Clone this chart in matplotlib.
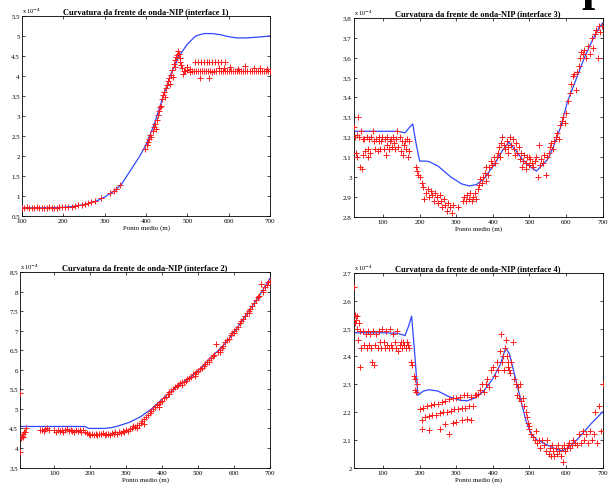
import numpy as np
import matplotlib
matplotlib.use("Agg")
import matplotlib.pyplot as plt

# Curvatura da frente de onda-NIP, valores em unidades de 1e-4
# ---- interface 1 ----
blue1_x = [100, 150, 200, 220, 240, 260, 280, 300, 320, 340, 360, 385, 400, 420, 440, 460, 480, 500, 520, 540, 560, 580, 600, 620, 640, 670, 700]
blue1_y = [0.70, 0.70, 0.71, 0.73, 0.76, 0.81, 0.87, 0.97, 1.10, 1.28, 1.60, 2.00, 2.28, 2.80, 3.45, 4.05, 4.50, 4.80, 5.00, 5.06, 5.06, 5.03, 4.98, 4.95, 4.95, 4.97, 5.00]
red1_x = [100, 106, 112, 118, 124, 130, 136, 142, 148, 154, 160, 166, 172, 178, 184, 190, 196, 204, 212, 220, 228, 236, 244, 252, 260, 268, 276, 292, 312, 322, 328, 338,
          398, 401, 404, 407, 410, 413, 416, 418, 421, 423, 426, 428, 431, 433, 436, 438, 440, 443, 445, 448, 450, 452, 455, 457, 460, 462, 464, 467, 469, 471, 473, 475, 477, 479, 481, 483, 485, 487, 489, 491,
          518, 525, 532, 539, 546, 553, 560, 567, 574, 581, 590,
          495, 500, 505, 510, 515, 520, 525, 530, 535, 540, 545, 550, 555, 560, 565, 570, 575, 580, 585, 590, 595, 600, 605, 610, 615, 620, 625, 630, 635, 640, 645, 650, 655, 660, 665, 670, 675, 680, 685, 690, 695, 700,
          530, 552, 602, 622, 638, 660, 676, 692, 498, 505, 575, 588]
red1_y = [0.70, 0.70, 0.71, 0.70, 0.70, 0.70, 0.71, 0.70, 0.70, 0.70, 0.70, 0.71, 0.70, 0.70, 0.70, 0.71, 0.71, 0.72, 0.72, 0.73, 0.74, 0.76, 0.77, 0.79, 0.82, 0.84, 0.87, 0.95, 1.06, 1.12, 1.17, 1.27,
          2.18, 2.28, 2.35, 2.42, 2.52, 2.48, 2.62, 2.72, 2.80, 2.68, 2.90, 3.02, 3.12, 3.22, 3.25, 3.42, 3.52, 3.60, 3.48, 3.70, 3.78, 3.88, 3.95, 3.80, 4.02, 4.15, 3.98, 4.30, 4.22, 4.40, 4.48, 4.52, 4.62, 4.55, 4.45, 4.35, 4.28, 4.20, 4.05, 4.12,
          4.36, 4.36, 4.36, 4.36, 4.36, 4.36, 4.35, 4.35, 4.36, 4.35, 4.36,
          4.12, 4.14, 4.11, 4.12, 4.13, 4.12, 4.12, 4.12, 4.12, 4.12, 4.12, 4.12, 4.12, 4.11, 4.12, 4.12, 4.12, 4.12, 4.12, 4.12, 4.12, 4.13, 4.12, 4.12, 4.13, 4.13, 4.12, 4.12, 4.13, 4.12, 4.13, 4.12, 4.12, 4.12, 4.12, 4.12, 4.13, 4.12, 4.12, 4.12, 4.12, 4.12,
          3.95, 3.95, 4.22, 4.18, 4.24, 4.20, 4.20, 4.18, 4.22, 4.18, 4.20, 4.19]

# ---- interface 3 ----
blue3_x = [20, 60, 100, 140, 160, 170, 181, 190, 200, 215, 225, 250, 285, 315, 336, 355, 375, 403, 425, 443, 460, 480, 500, 519, 535, 550, 565, 585, 604, 625, 650, 675, 690, 700]
blue3_y = [3.23, 3.23, 3.23, 3.23, 3.222, 3.245, 3.267, 3.17, 3.08, 3.08, 3.078, 3.055, 3.0, 2.965, 2.955, 2.962, 2.99, 3.06, 3.13, 3.175, 3.14, 3.09, 3.055, 3.03, 3.06, 3.09, 3.15, 3.25, 3.38, 3.48, 3.6, 3.7, 3.75, 3.775]
red3_x = [20, 22, 25, 28, 32, 35, 38, 40, 42, 45, 48, 50, 55, 58, 62, 65, 68, 72, 75, 78, 82, 85, 88, 92, 95, 98, 102, 105, 108, 112, 115, 118, 122, 125, 128, 132, 135, 138, 142, 145, 148, 152, 155, 158, 162, 165, 168, 170, 172,
          30, 45, 60, 90, 110, 130, 160,
          190, 193, 196, 200, 205, 210, 213, 218, 222, 226, 230, 235, 238, 242, 246, 250, 255, 258, 262, 266, 270, 274, 278, 283, 288, 292, 300, 305,
          318, 322, 326, 330, 334, 338, 342, 346, 350, 355, 358, 362, 366, 370, 374, 378, 382, 386, 390, 394, 398, 402, 406, 410, 414, 418, 422, 426, 430, 434, 438, 442, 446, 450, 454, 458, 462, 466, 470, 474, 478, 482, 486, 490, 494, 498,
          502, 506, 510, 514, 518, 522, 525, 528, 532, 536, 540, 544, 548, 552, 556, 560, 564, 568, 572, 576, 580, 584, 588, 592, 596, 600, 605, 610, 614, 618, 622, 626, 630, 634, 638, 642, 646, 650, 655, 660, 665, 670, 674, 678, 682, 686, 690, 694, 698,
          420, 440, 460, 480, 490, 500, 380]
red3_y = [3.25, 3.20, 3.12, 3.10, 3.30, 3.20, 3.05, 3.23, 3.04, 3.11, 3.19, 3.13, 3.20, 3.10, 3.19, 3.12, 3.20, 3.23, 3.18, 3.14, 3.19, 3.13, 3.20, 3.14, 3.18, 3.20, 3.14, 3.19, 3.11, 3.20, 3.14, 3.18, 3.19, 3.15, 3.20, 3.14, 3.19, 3.23, 3.15, 3.20, 3.13, 3.18, 3.11, 3.16, 3.14, 3.19, 3.10, 3.18, 3.13,
          3.21, 3.19, 3.14, 3.18, 3.16, 3.17, 3.18,
          3.05, 3.03, 3.01, 3.00, 2.97, 2.95, 2.89, 2.92, 2.94, 2.90, 2.93, 2.91, 2.88, 2.92, 2.90, 2.87, 2.91, 2.88, 2.85, 2.89, 2.86, 2.83, 2.87, 2.85, 2.82, 2.86, 2.78, 2.85,
          2.88, 2.90, 2.88, 2.91, 2.89, 2.92, 2.88, 2.90, 2.92, 2.89, 2.94, 2.96, 2.99, 2.97, 3.00, 3.02, 2.98, 3.01, 3.05, 3.08, 3.06, 3.10, 3.07, 3.10, 3.12, 3.15, 3.17, 3.20, 3.16, 3.14, 3.18, 3.15, 3.20, 3.16, 3.19, 3.14, 3.17, 3.12, 3.15, 3.09, 3.12, 3.08, 3.11, 3.07, 3.10, 3.06,
          3.09, 3.07, 3.05, 3.08, 3.10, 3.00, 3.16, 3.06, 3.09, 3.07, 3.11, 3.01, 3.10, 3.12, 3.15, 3.17, 3.14, 3.18, 3.20, 3.22, 3.19, 3.26, 3.28, 3.30, 3.27, 3.32, 3.38, 3.42, 3.47, 3.51, 3.52, 3.44, 3.53, 3.56, 3.60, 3.63, 3.62, 3.64, 3.60, 3.66, 3.62, 3.70, 3.65, 3.72, 3.74, 3.60, 3.76, 3.73, 3.76,
          3.10, 3.12, 3.11, 3.05, 3.04, 3.10, 3.05]

# ---- interface 2 ----
blue2_x = [5, 50, 100, 150, 185, 195, 205, 240, 260, 280, 310, 340, 370, 400, 430, 470, 500, 540, 580, 610, 640, 670, 700]
blue2_y = [4.55, 4.55, 4.55, 4.55, 4.55, 4.50, 4.50, 4.50, 4.52, 4.57, 4.66, 4.80, 5.00, 5.25, 5.50, 5.75, 5.98, 6.35, 6.72, 7.10, 7.50, 7.90, 8.35]
red2_x = [5, 5, 8, 10, 12, 14, 16, 18, 20,
          60, 65, 70, 75, 80, 85, 100, 105, 110, 115, 120, 125, 130, 135, 140, 145, 150, 155, 160, 165, 170, 175, 180, 185, 190, 195, 200, 205, 210, 215, 220, 225, 230, 235, 240, 245, 250, 255, 260, 265, 270, 275, 280, 285, 290, 295, 300,
          305, 310, 315, 320, 325, 330, 335, 340, 345, 350, 355, 360, 365, 370, 375, 380, 385, 390, 395, 400, 405, 410, 415, 420, 425, 430, 435, 440, 445, 450, 455, 460, 465, 470, 475, 480, 485, 490, 495, 500,
          505, 510, 515, 520, 525, 530, 535, 540, 545, 550, 555, 560, 565, 570, 575, 580, 585, 590, 595, 600, 605, 610, 615, 620, 625, 630, 635, 640, 645, 650, 655, 660, 665, 670, 675, 680, 685, 690, 695, 700,
          330, 350, 390, 420, 455, 490, 530, 560, 600, 640, 680]
red2_y = [5.40, 3.90, 4.25, 4.30, 4.28, 4.35, 4.40, 4.42, 4.50,
          4.45, 4.47, 4.44, 4.48, 4.50, 4.45, 4.45, 4.42, 4.47, 4.44, 4.46, 4.42, 4.45, 4.48, 4.43, 4.46, 4.44, 4.41, 4.47, 4.44, 4.46, 4.42, 4.45, 4.40, 4.38, 4.35, 4.33, 4.36, 4.34, 4.37, 4.33, 4.36, 4.35, 4.38, 4.34, 4.37, 4.35, 4.33, 4.38, 4.35, 4.40, 4.37, 4.42, 4.38, 4.44, 4.41, 4.46,
          4.44, 4.48, 4.52, 4.55, 4.53, 4.60, 4.58, 4.65, 4.70, 4.75, 4.80, 4.85, 4.90, 4.95, 5.00, 5.05, 5.10, 5.12, 5.18, 5.20, 5.28, 5.30, 5.38, 5.42, 5.45, 5.50, 5.55, 5.58, 5.62, 5.65, 5.68, 5.70, 5.72, 5.76, 5.78, 5.82, 5.88, 5.90, 5.95, 5.98,
          6.02, 6.05, 6.10, 6.15, 6.20, 6.25, 6.30, 6.35, 6.38, 6.66, 6.45, 6.50, 6.55, 6.62, 6.70, 6.75, 6.80, 6.88, 6.95, 7.00, 7.05, 7.10, 7.20, 7.25, 7.30, 7.38, 7.45, 7.50, 7.55, 7.62, 7.70, 7.78, 7.85, 7.90, 8.20, 8.05, 8.12, 8.18, 8.25, 8.28,
          4.50, 4.62, 5.05, 5.38, 5.60, 5.85, 6.20, 6.45, 6.95, 7.45, 8.00]

# ---- interface 4 ----
blue4_x = [20, 60, 100, 140, 160, 170, 178, 187, 195, 210, 225, 250, 280, 310, 330, 350, 375, 400, 420, 435, 445, 460, 475, 490, 505, 520, 550, 575, 590, 610, 630, 650, 670, 700]
blue4_y = [2.485, 2.485, 2.485, 2.483, 2.475, 2.51, 2.545, 2.40, 2.26, 2.275, 2.28, 2.275, 2.255, 2.242, 2.24, 2.25, 2.275, 2.32, 2.37, 2.43, 2.41, 2.33, 2.25, 2.17, 2.12, 2.10, 2.08, 2.065, 2.06, 2.075, 2.10, 2.13, 2.16, 2.20]
red4_x = [20, 22, 24, 26, 28, 30, 32, 34, 36, 38, 40, 45, 48, 52, 55, 58, 62, 65, 68, 70, 72, 75, 78, 82, 85, 88, 92, 95, 98, 102, 105, 108, 112, 115, 118, 122, 125, 128, 132, 135, 138, 142, 145, 148, 152, 155, 158, 162, 165, 168, 172,
          176, 180, 184, 186, 188, 190, 192,
          200, 210, 220, 230, 240, 250, 260, 270, 280, 290, 300, 310, 320, 330, 340, 350, 360,
          205, 215, 225, 235, 245, 255, 265, 275, 285, 295, 305, 315, 325, 335, 345,
          205, 225, 255, 270, 280, 290, 300, 315, 330, 340,
          355, 365, 370, 375, 380, 385, 390, 395, 400, 405, 410, 415, 420, 422, 425, 428, 430, 432, 435, 438, 440, 442, 445, 448, 450, 455, 458, 462, 465, 468, 472, 475, 478, 482, 485, 490, 493, 495, 498, 500,
          505, 510, 515, 518, 520, 525, 530, 535, 540, 545, 548, 552, 555, 558, 562, 565, 568, 572, 575, 578, 582, 585, 588, 592, 595, 598, 602, 605, 608, 612, 615, 620, 625, 630, 635, 640, 645, 650, 655, 660, 665, 670, 675, 680, 685, 690, 695, 700]
red4_y = [2.65, 2.55, 2.52, 2.53, 2.50, 2.545, 2.46, 2.52, 2.36, 2.49, 2.43, 2.49, 2.44, 2.48, 2.43, 2.49, 2.44, 2.48, 2.43, 2.38, 2.49, 2.37, 2.44, 2.48, 2.43, 2.49, 2.45, 2.43, 2.50, 2.45, 2.43, 2.49, 2.44, 2.43, 2.50, 2.44, 2.43, 2.48, 2.45, 2.43, 2.49, 2.42, 2.44, 2.45, 2.43, 2.45, 2.44, 2.43, 2.45, 2.44, 2.43,
          2.38, 2.37, 2.33, 2.32, 2.28, 2.27, 2.30,
          2.21, 2.215, 2.22, 2.225, 2.23, 2.23, 2.235, 2.24, 2.245, 2.25, 2.25, 2.255, 2.26, 2.26, 2.255, 2.26, 2.265,
          2.17, 2.18, 2.185, 2.19, 2.19, 2.195, 2.20, 2.20, 2.205, 2.21, 2.21, 2.215, 2.215, 2.22, 2.22,
          2.14, 2.135, 2.14, 2.155, 2.12, 2.16, 2.165, 2.17, 2.175, 2.17,
          2.26, 2.28, 2.30, 2.27, 2.30, 2.32, 2.29, 2.35, 2.36, 2.33, 2.38, 2.35, 2.42, 2.48, 2.38, 2.40, 2.35, 2.43, 2.46, 2.40, 2.36, 2.38, 2.35, 2.34, 2.38, 2.45, 2.32, 2.30, 2.26, 2.29, 2.25, 2.30, 2.24, 2.25, 2.22, 2.20, 2.18, 2.16, 2.14, 2.15,
          2.12, 2.11, 2.10, 2.13, 2.09, 2.10, 2.07, 2.10, 2.08, 2.06, 2.10, 2.05, 2.07, 2.04, 2.08, 2.06, 2.04, 2.07, 2.05, 2.08, 2.06, 2.04, 2.07, 2.02, 2.08, 2.06, 2.07, 2.08, 2.09, 2.07, 2.08, 2.10, 2.09, 2.08, 2.12, 2.09, 2.13, 2.10, 2.12, 2.09, 2.13, 2.10, 2.12, 2.20, 2.09, 2.22, 2.13, 2.30]

SERIF = "Liberation Serif"


def painel(ax, bx, by, rx, ry, titulo, xlim, ylim, yticks, xticks):
    ax.plot(bx, by, color="#3048ff", lw=0.9, zorder=2)
    ax.plot(rx, ry, "+", color="#ff1a1a", ms=3.8, mew=0.7, zorder=3)
    ax.set_xlim(*xlim)
    ax.set_ylim(*ylim)
    ax.set_xticks(xticks)
    ax.set_yticks(yticks)
    ax.set_yticklabels([f"{v:g}" for v in yticks])
    ax.tick_params(direction="in", length=2.5, width=0.5, labelsize=5, pad=1.5,
                   top=True, right=True)
    for lab in ax.get_xticklabels() + ax.get_yticklabels():
        lab.set_family(SERIF)
    for s in ax.spines.values():
        s.set_linewidth(0.6)
    ax.set_title(titulo, fontsize=6, fontweight="bold", family=SERIF, pad=2)
    ax.set_xlabel("Ponto medio (m)", fontsize=5, family=SERIF, labelpad=1)
    ax.text(0.0, 1.005, r"x 10$^{-4}$", transform=ax.transAxes, fontsize=4.5,
            family=SERIF, va="bottom", ha="left")


fig = plt.figure(figsize=(6.1, 4.85), dpi=100)

ax1 = fig.add_axes([0.036, 0.553, 0.407, 0.412])
painel(ax1, blue1_x, blue1_y, red1_x, red1_y,
       "Curvatura da frente de onda-NIP (interface 1)",
       (100, 700), (0.5, 5.5), [0.5, 1, 1.5, 2, 2.5, 3, 3.5, 4, 4.5, 5, 5.5],
       [100, 200, 300, 400, 500, 600, 700])

ax2 = fig.add_axes([0.580, 0.551, 0.408, 0.410])
painel(ax2, blue3_x, blue3_y, red3_x, red3_y,
       "Curvatura da frente de onda-NIP (interface 3)",
       (20, 700), (2.8, 3.8), [2.8, 2.9, 3, 3.1, 3.2, 3.3, 3.4, 3.5, 3.6, 3.7, 3.8],
       [100, 200, 300, 400, 500, 600, 700])

ax3 = fig.add_axes([0.033, 0.034, 0.410, 0.403])
painel(ax3, blue2_x, blue2_y, red2_x, red2_y,
       "Curvatura da frente de onda-NIP (interface 2)",
       (5, 700), (3.5, 8.5), [3.5, 4, 4.5, 5, 5.5, 6, 6.5, 7, 7.5, 8, 8.5],
       [100, 200, 300, 400, 500, 600, 700])

ax4 = fig.add_axes([0.580, 0.034, 0.408, 0.401])
painel(ax4, blue4_x, blue4_y, red4_x, red4_y,
       "Curvatura da frente de onda-NIP (interface 4)",
       (20, 700), (2.0, 2.7), [2, 2.1, 2.2, 2.3, 2.4, 2.5, 2.6, 2.7],
       [100, 200, 300, 400, 500, 600, 700])

# pedaco de letra cortada no canto superior direito
fig.text(0.975, 1.0, "p", fontsize=34, fontweight="bold", family=SERIF,
         ha="center", va="baseline")

fig.savefig("out.png", dpi=100)
